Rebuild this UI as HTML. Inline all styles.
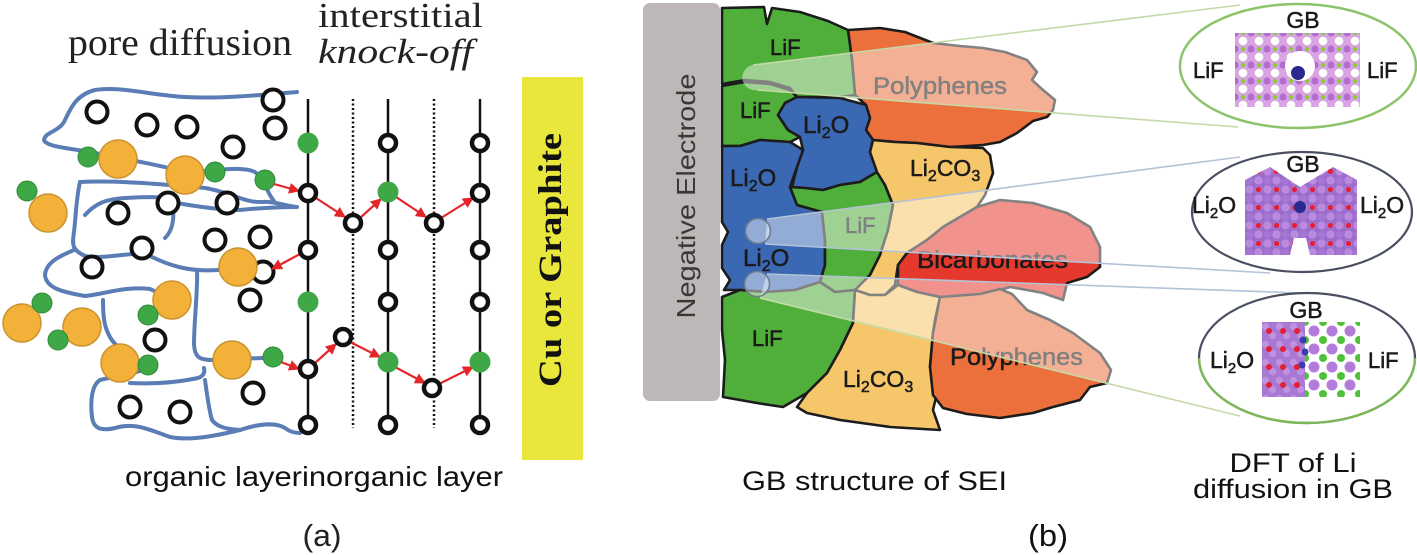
<!DOCTYPE html>
<html>
<head>
<meta charset="utf-8">
<style>
html,body{margin:0;padding:0;background:#fff;}
svg{display:block;}
</style>
</head>
<body>
<svg width="1417" height="555" viewBox="0 0 1417 555" xmlns="http://www.w3.org/2000/svg">
<defs>
  <marker id="ah" viewBox="0 0 10 10" refX="9" refY="5" markerWidth="5" markerHeight="5" orient="auto" markerUnits="strokeWidth">
    <path d="M0,0 L10,5 L0,10 Z" fill="#e3262a"/>
  </marker>
  <pattern id="pA" x="1235" y="33" width="16" height="16" patternUnits="userSpaceOnUse">
    <rect width="16" height="16" fill="#d9a4e2"/>
    <circle cx="8" cy="8" r="4.3" fill="#ffffff"/>
    <circle cx="0" cy="0" r="3.6" fill="#b46ccc"/><circle cx="16" cy="0" r="3.6" fill="#b46ccc"/>
    <circle cx="0" cy="16" r="3.6" fill="#b46ccc"/><circle cx="16" cy="16" r="3.6" fill="#b46ccc"/>
    <circle cx="8" cy="0" r="2.2" fill="#86cc3e"/><circle cx="8" cy="16" r="2.2" fill="#86cc3e"/>
  </pattern>
  <pattern id="pB" x="1245" y="167" width="18" height="18" patternUnits="userSpaceOnUse">
    <rect width="18" height="18" fill="#9c6ccc"/>
    <circle cx="4.5" cy="4.5" r="4.2" fill="#b98ade"/><circle cx="13.5" cy="13.5" r="4.2" fill="#b98ade"/>
    <circle cx="13.5" cy="4.5" r="3.8" fill="#a577d4"/><circle cx="4.5" cy="13.5" r="3.8" fill="#a577d4"/>
    <circle cx="13.5" cy="4.5" r="2.6" fill="#e41f34"/>
  </pattern>
  <pattern id="pC" x="1262" y="322" width="14" height="18" patternUnits="userSpaceOnUse">
    <rect width="14" height="18" fill="#a878d2"/>
    <circle cx="3.5" cy="4.5" r="3.6" fill="#c093e0"/><circle cx="10.5" cy="13.5" r="3.6" fill="#c093e0"/>
    <circle cx="7" cy="9" r="3" fill="#e41f34"/>
  </pattern>
  <pattern id="pD" x="1305" y="322" width="18" height="18" patternUnits="userSpaceOnUse">
    <rect width="18" height="18" fill="#ffffff"/>
    <circle cx="9" cy="9" r="5.5" fill="#b27cd8"/>
    <circle cx="0" cy="0" r="4" fill="#4fc23a"/><circle cx="18" cy="0" r="4" fill="#4fc23a"/>
    <circle cx="0" cy="18" r="4" fill="#4fc23a"/><circle cx="18" cy="18" r="4" fill="#4fc23a"/>
  </pattern>
</defs>
<rect width="1417" height="555" fill="#fff"/>

<!-- ================= PANEL (a) ================= -->
<text x="68" y="55" font-family="'Liberation Serif', serif" font-size="38" fill="#222" textLength="224" lengthAdjust="spacingAndGlyphs">pore diffusion</text>
<text x="318" y="27" font-family="'Liberation Serif', serif" font-size="35" fill="#222" textLength="165" lengthAdjust="spacingAndGlyphs">interstitial</text>
<text x="318" y="63" font-family="'Liberation Serif', serif" font-size="35" font-style="italic" fill="#222" textLength="155" lengthAdjust="spacingAndGlyphs">knock-off</text>

<rect x="522" y="77" width="61" height="383" fill="#e9e63c"/>
<text transform="translate(561,260) rotate(-90)" text-anchor="middle" font-family="'Liberation Serif', serif" font-weight="bold" font-size="33" fill="#111" textLength="254" lengthAdjust="spacingAndGlyphs">Cu or Graphite</text>

<g fill="none" stroke="#5b7db5" stroke-width="4" stroke-linecap="round" stroke-linejoin="round">
  <path d="M297,92 C260,95 220,99 185,97 C150,95 120,86 95,90 C75,95 70,110 64,122 C58,132 45,132 44,140 C46,147 70,148 95,153 C130,160 160,165 185,172 C210,172 240,165 255,172 C265,180 268,195 274,201"/>
  <path d="M80,182 C120,180 170,185 205,188 C230,192 245,203 262,202 C275,201 285,206 296,207"/>
  <path d="M80,182 C76,200 76,215 74,232 C72,245 72,250 85,256 C105,260 135,250 150,256 C170,266 190,272 218,270"/>
  <path d="M74,250 C60,256 46,262 45,275 C46,288 62,292 85,296 C105,294 125,286 150,289 C158,292 162,296 165,300"/>
  <path d="M197,270 C198,290 194,320 194,345 C195,356 198,360 212,360 L262,358"/>
  <path d="M103,300 C103,315 104,325 108,333 C112,343 118,346 122,350"/>
  <path d="M150,368 C140,372 120,375 100,380 C92,385 90,400 92,417 C93,426 98,432 115,428 C135,422 150,430 170,437 C190,441 215,436 240,430 C258,424 275,422 285,428 C290,432 295,433 300,433"/>
  <path d="M130,383 C150,384 175,383 198,378 C204,376 205,372 204,368"/>
  <path d="M205,380 C207,395 209,410 212,420 C218,428 228,429 240,430"/>
  <path d="M85,215 C95,204 105,199 125,198 C145,197 160,196 170,200 C175,210 175,228 165,238"/>
  <path d="M170,202 C190,205 215,210 240,210 C260,208 280,207 297,207"/>
</g>

<g fill="#fff" stroke="#111" stroke-width="4">
  <circle cx="97" cy="112" r="10.5"/><circle cx="147" cy="125" r="10.5"/><circle cx="187" cy="127" r="10.5"/>
  <circle cx="233" cy="147" r="10.5"/><circle cx="273" cy="100" r="10.5"/><circle cx="275" cy="128" r="10.5"/>
  <circle cx="118" cy="213" r="10.5"/><circle cx="168" cy="203" r="10.5"/><circle cx="227" cy="203" r="10.5"/>
  <circle cx="215" cy="240" r="10.5"/><circle cx="260" cy="237" r="10.5"/><circle cx="142" cy="248" r="10.5"/>
  <circle cx="92" cy="267" r="10.5"/><circle cx="263" cy="272" r="10.5"/><circle cx="250" cy="300" r="10.5"/>
  <circle cx="155" cy="340" r="10.5"/><circle cx="253" cy="393" r="10.5"/><circle cx="130" cy="407" r="10.5"/>
  <circle cx="180" cy="412" r="10.5"/>
</g>
<g fill="#f3b13a" stroke="#c9932e" stroke-width="1.5">
  <circle cx="118" cy="159" r="19"/><circle cx="185" cy="175" r="19"/><circle cx="48" cy="213" r="19"/>
  <circle cx="238" cy="267" r="19"/><circle cx="22" cy="323" r="19"/><circle cx="82" cy="327" r="19"/>
  <circle cx="172" cy="300" r="19"/><circle cx="120" cy="363" r="19"/><circle cx="232" cy="360" r="19"/>
</g>
<g fill="#3ea846" stroke="#2e8a38" stroke-width="1">
  <circle cx="88" cy="157" r="10"/><circle cx="215" cy="172" r="10"/><circle cx="265" cy="180" r="10"/>
  <circle cx="27" cy="191" r="10"/><circle cx="42" cy="303" r="10"/><circle cx="58" cy="340" r="10"/>
  <circle cx="148" cy="315" r="10"/><circle cx="148" cy="365" r="10"/><circle cx="273" cy="357" r="10"/>
</g>

<g stroke="#111" stroke-width="2.5">
  <line x1="308" y1="99" x2="308" y2="431"/>
  <line x1="388" y1="99" x2="388" y2="431"/>
  <line x1="480" y1="99" x2="480" y2="431"/>
</g>
<g stroke="#111" stroke-width="2.5" stroke-dasharray="2,2.5">
  <line x1="353" y1="99" x2="353" y2="428"/>
  <line x1="434" y1="99" x2="434" y2="428"/>
</g>

<g stroke="#e3262a" stroke-width="2.2" fill="none" marker-end="url(#ah)">
  <line x1="274" y1="184" x2="299" y2="191"/>
  <line x1="300" y1="254" x2="272" y2="269"/>
  <line x1="281" y1="362" x2="299" y2="369"/>
  <line x1="316" y1="198" x2="345" y2="217"/>
  <line x1="360" y1="218" x2="381" y2="199"/>
  <line x1="396" y1="197" x2="426" y2="217"/>
  <line x1="441" y1="218" x2="473" y2="198"/>
  <line x1="315" y1="363" x2="336" y2="344"/>
  <line x1="350" y1="342" x2="380" y2="357"/>
  <line x1="395" y1="367" x2="425" y2="383"/>
  <line x1="439" y1="384" x2="473" y2="367"/>
</g>

<g fill="#fff" stroke="#111" stroke-width="4.5">
  <circle cx="308" cy="193" r="8"/><circle cx="308" cy="250" r="8"/><circle cx="308" cy="369" r="8"/><circle cx="308" cy="425" r="8"/>
  <circle cx="388" cy="143" r="8"/><circle cx="388" cy="250" r="8"/><circle cx="388" cy="302" r="8"/><circle cx="388" cy="425" r="8"/>
  <circle cx="480" cy="143" r="8"/><circle cx="480" cy="193" r="8"/><circle cx="480" cy="250" r="8"/><circle cx="480" cy="302" r="8"/><circle cx="480" cy="425" r="8"/>
  <circle cx="353" cy="223" r="8"/><circle cx="434" cy="223" r="8"/>
  <circle cx="343" cy="337" r="8"/><circle cx="432" cy="388" r="8"/>
</g>
<g fill="#3ea846">
  <circle cx="308" cy="143" r="10.5"/><circle cx="308" cy="302" r="10.5"/>
  <circle cx="388" cy="192" r="10.5"/><circle cx="388" cy="362" r="10.5"/>
  <circle cx="480" cy="362" r="10.5"/>
</g>

<text x="125" y="486" font-family="'Liberation Sans', sans-serif" font-size="28" fill="#111" textLength="378" lengthAdjust="spacingAndGlyphs">organic layerinorganic layer</text>
<text x="322" y="546" text-anchor="middle" font-family="'Liberation Sans', sans-serif" font-size="31" fill="#222" textLength="39" lengthAdjust="spacingAndGlyphs">(a)</text>

<!-- ================= PANEL (b) ================= -->
<rect x="643" y="3" width="77" height="398" rx="7" fill="#bdb8b7"/>
<text transform="translate(695,196) rotate(-90)" text-anchor="middle" font-family="'Liberation Sans', sans-serif" font-size="26" fill="#3a3737" textLength="245" lengthAdjust="spacingAndGlyphs">Negative Electrode</text>

<g stroke="#1c1c1c" stroke-width="2.6" stroke-linejoin="round">
  <path fill="#ec703c" d="M848,30 L880,28 L905,32 L933,43 L960,46 L983,48 L1005,52 L1027,60 L1037,72 L1032,80 L1043,90 L1055,100 L1053,110 L1047,117 L1033,121 L1017,133 L1000,142 L983,145 L950,147 L917,143 L895,142 L873,140 L866,130 L870,118 L866,105 L855,95 L852,60 Z"/>
  <path fill="#50ae3a" d="M722,8 L764,7 L767,24 L772,8 L800,12 L828,21 L848,30 L852,60 L855,95 L840,97 L797,97 L790,88 L770,82 L745,80 L722,84 Z"/>
  <path fill="#50ae3a" d="M722,86 L745,82 L770,84 L790,90 L797,97 L785,103 L778,115 L788,130 L800,137 L790,142 L760,140 L740,146 L722,146 Z"/>
  <path fill="#3a68b2" d="M797,97 L840,98 L866,105 L870,118 L866,130 L873,140 L870,152 L877,172 L860,182 L840,185 L823,190 L805,188 L792,187 L797,167 L803,150 L800,137 L788,130 L778,115 L785,103 Z"/>
  <path fill="#3a68b2" d="M722,146 L740,146 L760,140 L790,142 L803,150 L797,167 L790,187 L797,205 L822,212 L825,240 L825,265 L820,282 L795,290 L765,292 L740,290 L724,290 L730,280 L722,268 L722,245 L728,232 L722,222 Z"/>
  <path fill="#50ae3a" d="M790,187 L805,188 L823,190 L840,185 L860,182 L877,172 L885,185 L893,205 L888,230 L880,255 L870,275 L855,290 L835,292 L820,282 L825,265 L825,240 L822,212 L797,205 Z"/>
  <path fill="#f6c76a" d="M873,140 L895,142 L917,143 L950,147 L983,148 L990,155 L993,173 L985,195 L977,207 L943,227 L927,240 L907,253 L898,265 L895,285 L885,295 L870,295 L855,290 L870,275 L880,255 L888,230 L893,205 L885,185 L877,172 L870,152 Z"/>
  <path fill="#e6392e" d="M977,207 L1000,200 L1033,203 L1067,213 L1090,227 L1100,247 L1100,267 L1087,277 L1067,283 L1063,300 L1043,293 L1027,290 L1010,287 L1000,290 L980,295 L960,297 L940,297 L917,292 L898,285 L898,265 L907,253 L927,240 L943,227 Z"/>
  <path fill="#50ae3a" d="M722,297 L740,290 L765,292 L795,290 L820,282 L835,292 L855,290 L853,323 L840,350 L827,373 L807,393 L783,407 L757,403 L723,397 L725,360 L722,330 Z"/>
  <path fill="#f6c76a" d="M855,290 L870,295 L885,295 L898,285 L917,292 L940,297 L935,320 L933,333 L930,367 L937,393 L933,410 L940,430 L890,427 L840,420 L807,413 L797,407 L807,393 L827,373 L840,350 L853,323 Z"/>
  <path fill="#ec703c" d="M940,297 L980,294 L1000,289 L1012,294 L1027,310 L1050,320 L1073,333 L1100,353 L1111,370 L1107,383 L1090,387 L1080,400 L1053,407 L1033,413 L1000,418 L967,414 L943,408 L933,395 L930,367 L933,333 Z"/>
</g>

<g font-family="'Liberation Sans', sans-serif" fill="#1a1a1a" stroke="#1a1a1a" stroke-width="0.5">
  <text x="770" y="55" font-size="22">LiF</text>
  <text x="740" y="118" font-size="22">LiF</text>
  <text x="803" y="133" font-size="24">Li<tspan font-size="16" dy="5">2</tspan><tspan dy="-5">O</tspan></text>
  <text x="730" y="186" font-size="24">Li<tspan font-size="16" dy="5">2</tspan><tspan dy="-5">O</tspan></text>
  <text x="873" y="94" font-size="24" textLength="134" lengthAdjust="spacingAndGlyphs">Polyphenes</text>
  <text x="910" y="176" font-size="23">Li<tspan font-size="16" dy="5">2</tspan><tspan dy="-5">CO</tspan><tspan font-size="16" dy="5">3</tspan></text>
  <text x="845" y="233" font-size="22">LiF</text>
  <text x="917" y="268" font-size="24" textLength="151" lengthAdjust="spacingAndGlyphs">Bicarbonates</text>
  <text x="743" y="266" font-size="24">Li<tspan font-size="16" dy="5">2</tspan><tspan dy="-5">O</tspan></text>
  <text x="752" y="346" font-size="22">LiF</text>
  <text x="843" y="387" font-size="23">Li<tspan font-size="16" dy="5">2</tspan><tspan dy="-5">CO</tspan><tspan font-size="16" dy="5">3</tspan></text>
  <text x="950" y="365" font-size="24" textLength="133" lengthAdjust="spacingAndGlyphs">Polyphenes</text>
</g>

<g fill="#ffffff" fill-opacity="0.45" stroke="none">
  <path d="M753,65 L1240,5 L1238,127 L757,90 A12.5,12.5 0 0 1 753,65 Z"/>
  <path d="M767,219 L1240,157 L1270,273 L765,244 Z"/>
  <circle cx="758" cy="231" r="12.5"/>
  <path d="M767,274 L1300,293 L1240,416 L760,298 Z"/>
  <circle cx="757" cy="284" r="12.5"/>
</g>
<g fill="none" stroke-width="1.6">
  <line x1="753" y1="65" x2="1240" y2="5" stroke="#c5d9a8"/>
  <line x1="757" y1="90" x2="1238" y2="127" stroke="#c5d9a8"/>
  <line x1="767" y1="219" x2="1240" y2="157" stroke="#b3c3d8"/>
  <line x1="765" y1="244" x2="1270" y2="273" stroke="#b3c3d8"/>
  <line x1="767" y1="274" x2="1300" y2="293" stroke="#b3c3d8"/>
  <line x1="760" y1="298" x2="1240" y2="416" stroke="#c5d9a8"/>
  <circle cx="758" cy="231" r="12.5" stroke="#6d7c92"/>
  <circle cx="757" cy="284" r="12.5" stroke="#6d7c92"/>
</g>

<ellipse cx="1298" cy="66" rx="118" ry="62" fill="#fff" stroke="#8cc46c" stroke-width="2.5"/>
<ellipse cx="1302" cy="212" rx="110" ry="60" fill="#fff" stroke="#4a5062" stroke-width="2.2"/>
<ellipse cx="1307" cy="358" rx="108" ry="65" fill="#fff" stroke="#4a5062" stroke-width="2.2"/>
<path d="M1199,358 A108,65 0 0 0 1415,358" fill="none" stroke="#7cb85a" stroke-width="2.5"/>

<rect x="1235" y="33" width="125" height="74" fill="url(#pA)"/>
<ellipse cx="1300" cy="66" rx="15" ry="15" fill="#fff"/>
<circle cx="1298" cy="73" r="7" fill="#2a2a8e"/>
<path d="M1245,180 L1270,167 L1300,187 L1333,167 L1357,180 L1357,255 L1310,255 L1306,238 L1294,238 L1290,255 L1245,255 Z" fill="url(#pB)"/>
<circle cx="1300" cy="207" r="6" fill="#2a2a8e"/>
<rect x="1262" y="322" width="43" height="75" fill="url(#pC)"/>
<rect x="1305" y="322" width="55" height="75" fill="url(#pD)"/>
<g fill="#3c3cb0"><circle cx="1303" cy="340" r="3.5"/><circle cx="1305" cy="352" r="3.5"/><circle cx="1302" cy="365" r="3.5"/></g>

<g font-family="'Liberation Sans', sans-serif" fill="#1a1a1a" stroke="#1a1a1a" stroke-width="0.5">
  <text x="1303" y="28" font-size="23" text-anchor="middle">GB</text>
  <text x="1193" y="78" font-size="22">LiF</text>
  <text x="1367" y="78" font-size="22">LiF</text>
  <text x="1303" y="172" font-size="23" text-anchor="middle">GB</text>
  <text x="1192" y="213" font-size="23">Li<tspan font-size="15" dy="5">2</tspan><tspan dy="-5">O</tspan></text>
  <text x="1360" y="213" font-size="23">Li<tspan font-size="15" dy="5">2</tspan><tspan dy="-5">O</tspan></text>
  <text x="1306" y="318" font-size="23" text-anchor="middle">GB</text>
  <text x="1210" y="368" font-size="23">Li<tspan font-size="15" dy="5">2</tspan><tspan dy="-5">O</tspan></text>
  <text x="1368" y="368" font-size="22">LiF</text>
</g>

<g font-family="'Liberation Sans', sans-serif" fill="#111">
  <text x="742" y="490" font-size="27" textLength="265" lengthAdjust="spacingAndGlyphs">GB structure of SEI</text>
  <text x="1293" y="472" font-size="27" text-anchor="middle" textLength="127" lengthAdjust="spacingAndGlyphs">DFT of Li</text>
  <text x="1293" y="498" font-size="27" text-anchor="middle" textLength="200" lengthAdjust="spacingAndGlyphs">diffusion in GB</text>
  <text x="1048" y="546" font-size="31" text-anchor="middle" textLength="40" lengthAdjust="spacingAndGlyphs">(b)</text>
</g>
</svg>
</body>
</html>
